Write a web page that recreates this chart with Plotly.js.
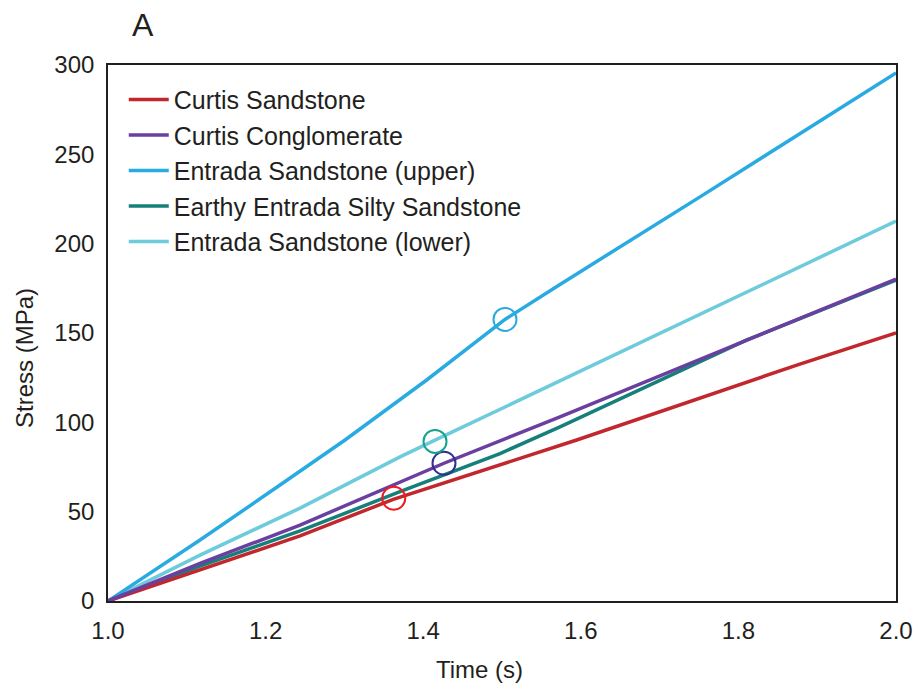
<!DOCTYPE html>
<html>
<head>
<meta charset="utf-8">
<script src="https://cdn.plot.ly/plotly-3.0.1.min.js"></script>
<style>
  html, body { margin: 0; padding: 0; background: #fff; }
  #chart { width: 920px; height: 691px; }
</style>
</head>
<body>
<div id="chart"></div>
<script>
// ---- Data ----
const seriesNames = [
  "Curtis Sandstone",
  "Curtis Conglomerate",
  "Entrada Sandstone (upper)",
  "Earthy Entrada Silty Sandstone",
  "Entrada Sandstone (lower)"
];

const curtisSandstoneT = [1.0, 1.1168, 1.2437, 1.362, 1.4975, 1.5948, 1.878, 2.0];
const curtisSandstoneV = [0, 17.5, 36.4, 56.9, 76.1, 90.1, 132.6, 150.0];

const curtisConglomerateT = [1.0, 1.1168, 1.2437, 1.3706, 1.4264, 1.5736, 1.878, 2.0];
const curtisConglomerateV = [0, 21.0, 42.5, 66.2, 77.1, 103.1, 158.2, 180.2];

const entradaUpperT = [1.0, 1.1168, 1.2183, 1.3008, 1.4044, 1.5038, 1.5736, 1.7513, 2.0];
const entradaUpperV = [0, 34.1, 64.9, 90.1, 123.7, 157.6, 177.2, 226.2, 295.6];

const earthyT = [1.0, 1.1168, 1.2437, 1.3706, 1.4975, 1.5736, 1.81, 2.0];
const earthyV = [0, 19.5, 39.2, 61.2, 82.5, 97.5, 146.0, 179.6];

const entradaLowerT = [1.0, 1.1168, 1.2437, 1.3706, 1.415, 1.5736, 1.878, 2.0];
const entradaLowerV = [0, 25.7, 52.0, 80.7, 90.0, 123.3, 187.1, 212.6];

// open circle markers
const circleT = [1.3626, 1.4264, 1.5038, 1.415];
const circleV = [57.5, 77.1, 157.6, 89.3];
const circleColors = ["#ED1C24", "#2E3192", "#29ABE2", "#17A28E"];

const xTicks = [1.0, 1.2, 1.4, 1.6, 1.8, 2.0];
const yTicks = [0, 50, 100, 150, 200, 250, 300];

// ---- Styling ----
const colors = {
  red: "#C1272D",
  purple: "#6B3FA0",
  blue: "#29ABE2",
  teal: "#157F7A",
  lightblue: "#6DCBDB"
};
const textColor = "#231F20";
const fontFamily = "Liberation Sans, Arial, Helvetica, sans-serif";

function lineTrace(x, y, name, color, rank) {
  return {
    x: x, y: y, name: name, type: "scatter", mode: "lines",
    line: { color: color, width: 3.5 },
    legendrank: rank, legendgroup: name,
    hoverinfo: "skip"
  };
}

const traces = [
  lineTrace(entradaLowerT, entradaLowerV, seriesNames[4], colors.lightblue, 5),
  lineTrace(entradaUpperT, entradaUpperV, seriesNames[2], colors.blue, 3),
  lineTrace(earthyT, earthyV, seriesNames[3], colors.teal, 4),
  lineTrace(curtisSandstoneT, curtisSandstoneV, seriesNames[0], colors.red, 1),
  lineTrace(curtisConglomerateT, curtisConglomerateV, seriesNames[1], colors.purple, 2),
  {
    x: circleT, y: circleV, type: "scatter", mode: "markers",
    showlegend: false, hoverinfo: "skip",
    marker: {
      symbol: "circle-open", size: 23,
      color: circleColors,
      line: { color: circleColors, width: 2 }
    }
  }
];

const layout = {
  width: 920, height: 691,
  margin: { l: 108, r: 24, t: 65, b: 90 },
  paper_bgcolor: "#fff",
  plot_bgcolor: "#fff",
  font: { family: fontFamily, size: 24, color: textColor },
  showlegend: true,
  legend: {
    x: 0.02, y: 0.978, xanchor: "left", yanchor: "top",
    bgcolor: "rgba(0,0,0,0)", borderwidth: 0,
    font: { family: fontFamily, size: 25, color: textColor },
    traceorder: "grouped", tracegroupgap: 0,
    itemwidth: 40
  },
  xaxis: {
    range: [1.0, 2.0],
    tickmode: "array", tickvals: xTicks,
    ticktext: xTicks.map(v => v.toFixed(1)),
    ticks: "", showgrid: false, zeroline: false,
    showline: true, mirror: true, linecolor: textColor, linewidth: 1.8,
    ticklabelstandoff: 7,
    tickfont: { family: fontFamily, size: 24, color: textColor }
  },
  yaxis: {
    range: [0, 300],
    tickmode: "array", tickvals: yTicks,
    ticktext: yTicks.map(String),
    ticks: "", showgrid: false, zeroline: false,
    showline: true, mirror: true, linecolor: textColor, linewidth: 1.8,
    ticklabelstandoff: 7,
    tickfont: { family: fontFamily, size: 24, color: textColor }
  },
  annotations: [
    {
      text: "A", xref: "paper", yref: "paper",
      x: (143 - 108) / 788, y: (601 - 25) / 536,
      xanchor: "center", yanchor: "middle", showarrow: false,
      font: { family: fontFamily, size: 32, color: textColor }
    },
    {
      text: "Time (s)", xref: "paper", yref: "paper",
      x: (479 - 108) / 788, y: (601 - 669) / 536,
      xanchor: "center", yanchor: "middle", showarrow: false,
      font: { family: fontFamily, size: 24, color: textColor }
    },
    {
      text: "Stress (MPa)", xref: "paper", yref: "paper",
      x: (25 - 108) / 788, y: (601 - 358) / 536,
      xanchor: "center", yanchor: "middle", showarrow: false, textangle: -90,
      font: { family: fontFamily, size: 24, color: textColor }
    }
  ]
};

Plotly.newPlot("chart", traces, layout, { displayModeBar: false, staticPlot: true });
</script>
</body>
</html>
